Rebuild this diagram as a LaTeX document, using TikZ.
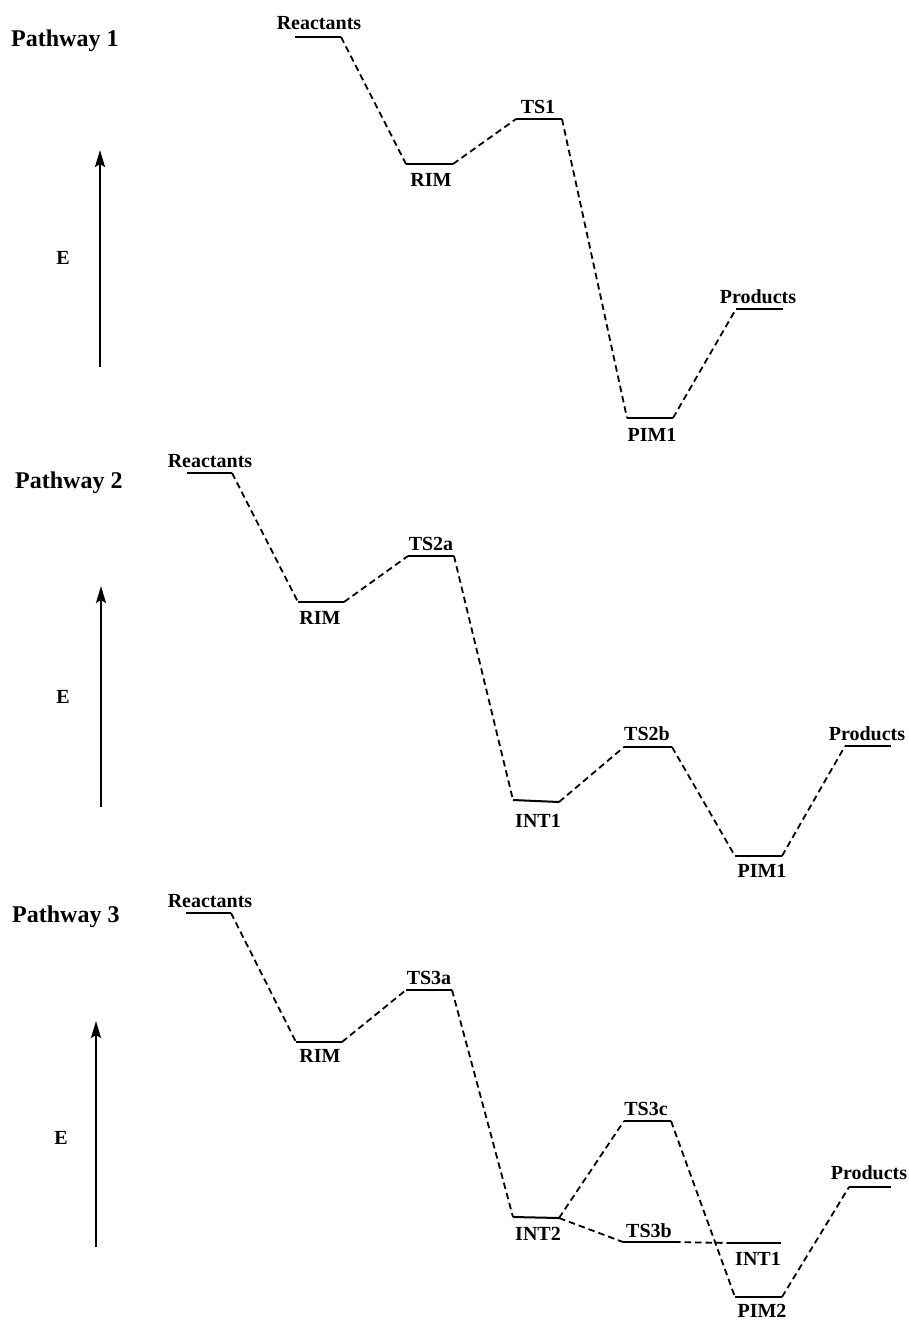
\documentclass[tikz,border=0pt]{standalone}
\usepackage{fontspec}
\setmainfont{Liberation Serif}
\usetikzlibrary{arrows.meta}
\newcommand\mylevel[5]{%
  \coordinate (#1l) at (#2,#4);
  \coordinate (#1r) at (#3,#5);
  \draw[level] (#1l) -- (#1r);}
\begin{document}
\begin{tikzpicture}[x=1pt,y=-1pt,
  level/.style={line width=2pt},
  conn/.style={line width=1.8pt, dash pattern=on 6.5pt off 4pt},
  lbl/.style={font=\fontsize{20}{24}\selectfont\bfseries, anchor=base, inner sep=0pt},
  ttl/.style={font=\fontsize{24}{28}\selectfont\bfseries, anchor=base west, inner sep=0pt},
  eaxis/.style={line width=2.2pt, -{Stealth[length=17pt,width=10pt,inset=3pt]}},
  elbl/.style={font=\fontsize{20}{24}\selectfont\bfseries, inner sep=0pt}]
\useasboundingbox (0,0) rectangle (908,1320);

% ---------------- Pathway 1 ----------------
\node[ttl] (t1) at (11,46) {Pathway 1};
\coordinate (a1b) at (100,367);
\coordinate (a1t) at (100,150);
\draw[eaxis] (a1b) -- (a1t);
\node[elbl] (e1) at (63,258) {E};

\mylevel{p1R}{295}{341}{37}{37}
\mylevel{p1M}{406}{453}{164}{164}
\mylevel{p1T}{516}{562}{119}{119}
\mylevel{p1P}{627}{673}{418}{418}
\mylevel{p1D}{736}{783}{309}{309}
\node[lbl] (l1R) at (319,29.3) {Reactants};
\node[lbl] (l1M) at (431,186) {RIM};
\node[lbl] (l1T) at (538,113) {TS1};
\node[lbl] (l1P) at (652,441) {PIM1};
\node[lbl] (l1D) at (758,303) {Products};
\draw[conn] (p1Rr) -- (p1Ml);
\draw[conn] (p1Mr) -- (p1Tl);
\draw[conn] (p1Tr) -- (p1Pl);
\draw[conn] (p1Pr) -- (p1Dl);

% ---------------- Pathway 2 ----------------
\node[ttl] (t2) at (15,488.3) {Pathway 2};
\coordinate (a2b) at (101,807);
\coordinate (a2t) at (101,586);
\draw[eaxis] (a2b) -- (a2t);
\node[elbl] (e2) at (63,697) {E};

\mylevel{p2R}{187}{232}{473}{473}
\mylevel{p2M}{298}{344}{602}{602}
\mylevel{p2T}{408}{454}{556}{556}
\mylevel{p2I}{513}{559}{800}{802}
\mylevel{p2U}{624}{672}{747}{747}
\mylevel{p2P}{735}{782}{856}{856}
\mylevel{p2D}{845}{891}{746}{746}
\node[lbl] (l2R) at (210,467.3) {Reactants};
\node[lbl] (l2M) at (320,624.3) {RIM};
\node[lbl] (l2T) at (431,550.7) {TS2a};
\node[lbl] (l2I) at (538,827.7) {INT1};
\node[lbl] (l2U) at (647,740) {TS2b};
\node[lbl] (l2P) at (762,877.5) {PIM1};
\node[lbl] (l2D) at (867,740) {Products};
\draw[conn] (p2Rr) -- (p2Ml);
\draw[conn] (p2Mr) -- (p2Tl);
\draw[conn] (p2Tr) -- (p2Il);
\draw[conn] (p2Ir) -- (p2Ul);
\draw[conn] (p2Ur) -- (p2Pl);
\draw[conn] (p2Pr) -- (p2Dl);

% ---------------- Pathway 3 ----------------
\node[ttl] (t3) at (12,922.3) {Pathway 3};
\coordinate (a3b) at (96,1247);
\coordinate (a3t) at (96,1021);
\draw[eaxis] (a3b) -- (a3t);
\node[elbl] (e3) at (61,1138) {E};

\mylevel{p3R}{186}{231}{913}{913}
\mylevel{p3M}{296}{342}{1042}{1042}
\mylevel{p3T}{406}{452}{990}{990}
\mylevel{p3N}{513}{559}{1217}{1218}
\mylevel{p3C}{624}{671}{1121}{1121}
\mylevel{p3B}{623}{674}{1242}{1242}
\mylevel{p3I}{729}{781}{1243}{1243}
\mylevel{p3P}{735}{782}{1297}{1297}
\mylevel{p3D}{849}{891}{1187}{1187}
\node[lbl] (l3R) at (210,907.3) {Reactants};
\node[lbl] (l3M) at (320,1062.7) {RIM};
\node[lbl] (l3T) at (429,984) {TS3a};
\node[lbl] (l3N) at (538,1240.7) {INT2};
\node[lbl] (l3C) at (646,1115) {TS3c};
\node[lbl] (l3B) at (649,1237.3) {TS3b};
\node[lbl] (l3I) at (758,1265) {INT1};
\node[lbl] (l3P) at (762,1317.5) {PIM2};
\node[lbl] (l3D) at (869,1179.3) {Products};
\draw[conn] (p3Rr) -- (p3Ml);
\draw[conn] (p3Mr) -- (p3Tl);
\draw[conn] (p3Tr) -- (p3Nl);
\draw[conn] (p3Nr) -- (p3Cl);
\draw[conn] (p3Nr) -- (p3Bl);
\draw[conn] (p3Br) -- (p3Il);
\draw[conn] (p3Cr) -- (p3Pl);
\draw[conn] (p3Pr) -- (p3Dl);
\end{tikzpicture}
\end{document}
